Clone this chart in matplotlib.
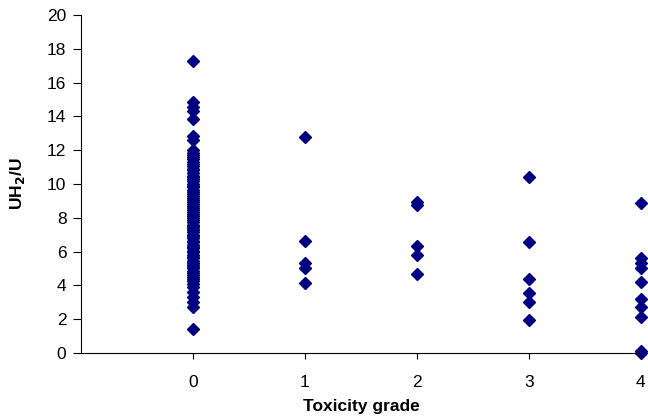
import matplotlib
matplotlib.use("Agg")
import matplotlib.pyplot as plt

plt.rcParams['font.family'] = ['Liberation Sans', 'DejaVu Sans']

# valores: grado de toxicidad y UH2/U
grado_0 = [17.3, 14.85, 14.55, 14.3, 13.85, 12.85, 12.6, 12.0, 11.85, 11.7, 11.6,
           11.45, 11.3, 11.2, 11.05, 10.9, 10.8, 10.65, 10.5, 10.4, 10.3, 10.15,
           10.0, 9.9, 9.8, 9.65, 9.55, 9.4, 9.3, 9.2, 9.05, 8.95, 8.8, 8.7, 8.6,
           8.45, 8.35, 8.2, 8.1, 8.0, 7.85, 7.75, 7.6, 7.5, 7.4, 7.25, 7.15, 7.0,
           6.9, 6.8, 6.65, 6.55, 6.4, 6.3, 6.2, 6.05, 5.95, 5.8, 5.7, 5.6, 5.45,
           5.35, 5.2, 5.1, 5.0, 4.85, 4.75, 4.6, 4.5, 4.4, 4.25, 4.1, 3.9, 3.6,
           3.3, 3.0, 2.7, 1.4]
grado_1 = [12.8, 6.6, 5.3, 5.0, 4.15]
grado_2 = [8.95, 8.75, 6.35, 5.8, 4.7]
grado_3 = [10.4, 6.55, 4.4, 3.55, 3.0, 1.95]
grado_4 = [8.9, 5.6, 5.35, 5.0, 4.2, 3.2, 2.7, 2.15, 0.1, 0.0]

grupos = [grado_0, grado_1, grado_2, grado_3, grado_4]

fig = plt.figure(figsize=(6.48, 4.17), dpi=100)
ax = fig.add_axes([0.125, 0.1535, 0.864, 0.8105])

for g, valores in enumerate(grupos):
    ax.plot([g] * len(valores), valores, linestyle='none', marker='D',
            markersize=6, color='#000080', clip_on=False)

ax.set_xlim(-1, 4)
ax.set_ylim(0, 20)
ax.set_xticks([0, 1, 2, 3, 4])
ax.set_yticks(range(0, 21, 2))
ax.spines['top'].set_visible(False)
ax.spines['right'].set_visible(False)
ax.tick_params(axis='x', direction='out', length=4.5, width=0.8, labelsize=12.5, pad=11)
ax.tick_params(axis='y', direction='out', length=5.5, width=0.8, labelsize=12.5, pad=5)

ax.set_xlabel('Toxicity grade', fontsize=12.5, fontweight='bold')
ax.set_ylabel('UH$_\\mathbf{2}$/U', fontsize=12.5, fontweight='bold')
ax.xaxis.set_label_coords(0.5, -0.135)
ax.yaxis.set_label_coords(-0.097, 0.5)

fig.savefig('out.png', dpi=100)
